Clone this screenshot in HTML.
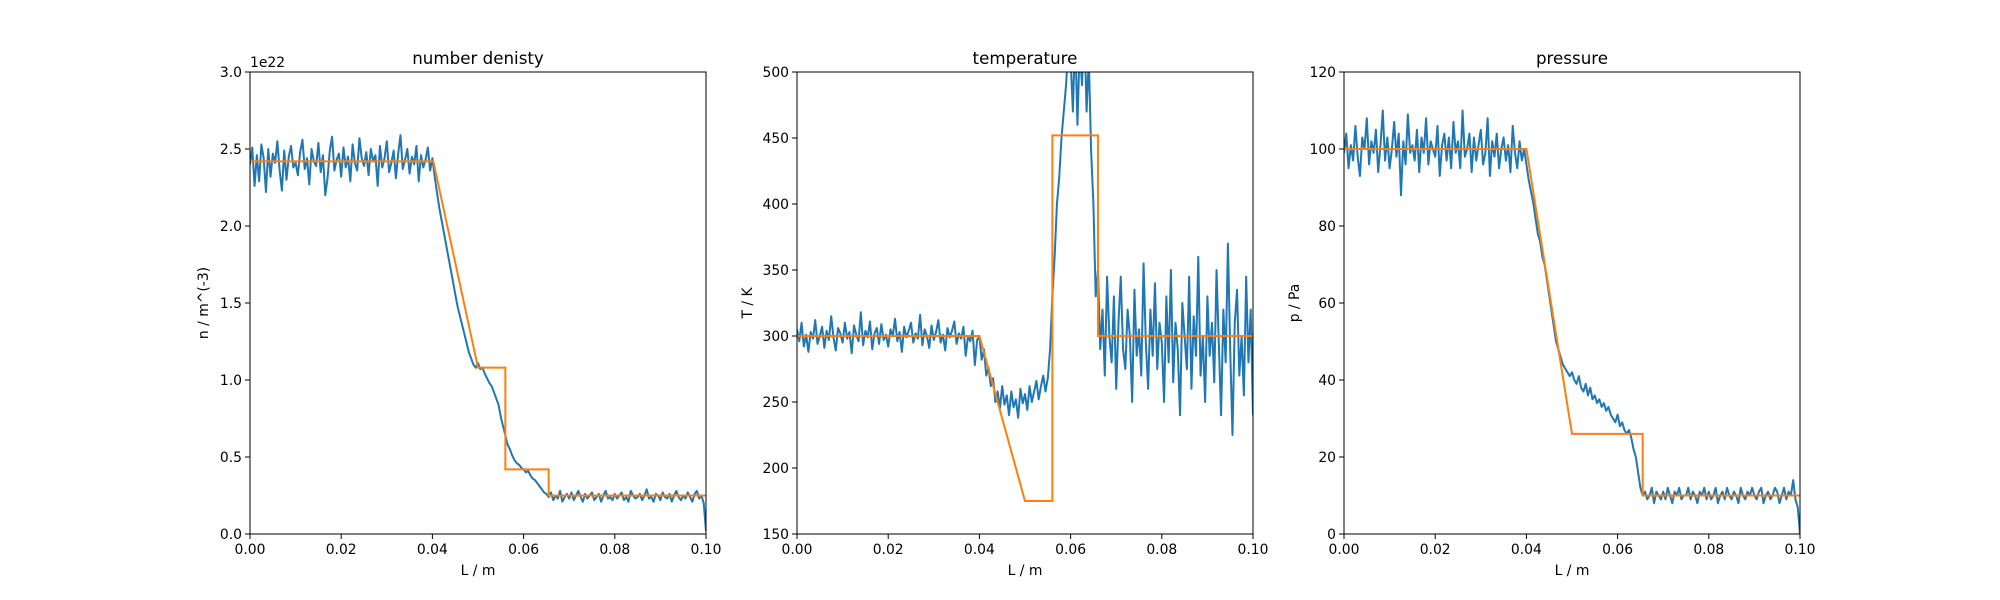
<!DOCTYPE html>
<html><head><meta charset="utf-8"><style>
html,body{margin:0;padding:0;background:#fff;}
svg{display:block;font-family:"DejaVu Sans","Liberation Sans",sans-serif;}
</style></head><body>
<svg id="fig" width="2000" height="600" viewBox="0 0 2000 600"></svg>
<script>
const xTicks=[0,0.02,0.04,0.06,0.08,0.10];
const xTickLabels=["0.00","0.02","0.04","0.06","0.08","0.10"];
const dx=0.0005;
// number density (units of 1e22 * 0.01)
const densityMeasured=[240,251,226,246,229,253,244,222,250,232,247,241,255,236,223,249,230,245,252,238,241,233,248,256,237,244,227,250,242,239,254,235,246,220,231,249,258,236,243,247,232,251,238,245,229,253,241,236,257,244,239,248,233,250,242,246,226,252,238,244,255,235,241,249,231,247,259,237,243,250,234,245,240,252,229,246,238,243,251,236,
244,232,222,212,204,196,188,180,172,164,156,148,142,136,130,124,118,114,110,108,111,107,108,104,101,98,96,92,88,84,76,70,64,58,55,51,48,46,45,43,42,40,41,38,36,35,33,31,29,27,
26,24,27,22,25,23,28,21,24,26,23,27,22,25,28,24,21,26,23,25,27,22,24,26,21,25,28,23,24,22,26,23,25,27,22,24,21,28,25,23,24,26,22,25,29,23,24,21,26,25,22,27,24,23,26,21,25,28,24,22,25,23,27,24,21,26,28,23,25,20,2];
const densityModelX=[0,0.0402,0.05,0.056,0.056,0.0655,0.0655,0.1];
const densityModelY=[2.42,2.42,1.08,1.08,0.42,0.42,0.25,0.25];
const densityTicks=[0,0.5,1.0,1.5,2.0,2.5,3.0];
const densityTickLabels=["0.0","0.5","1.0","1.5","2.0","2.5","3.0"];
// temperature (K)
const tempMeasured=[305,296,310,292,301,288,303,298,312,294,300,307,291,304,297,315,299,289,306,302,295,310,298,303,287,308,301,296,318,293,304,299,311,290,302,306,294,309,297,301,292,305,300,313,296,303,288,307,299,304,310,295,302,298,316,293,305,300,291,308,297,303,312,295,301,289,306,299,304,311,294,302,298,307,285,300,296,304,278,297,
300,282,290,270,276,262,268,250,258,245,262,248,255,240,258,246,252,238,260,249,256,244,262,250,258,266,252,262,270,258,268,290,330,360,400,420,450,470,490,520,510,470,530,460,520,490,540,470,510,440,
400,330,350,290,320,270,345,300,280,330,260,310,345,290,275,320,300,250,335,285,305,270,355,295,260,320,285,340,275,310,295,250,330,280,350,265,310,290,240,325,300,275,345,260,315,285,360,270,300,250,330,285,310,265,350,295,240,320,280,370,290,225,310,335,270,300,255,345,280,320,240];
const tempModelX=[0,0.04,0.05,0.056,0.056,0.066,0.066,0.1];
const tempModelY=[300,300,175,175,452,452,300,300];
const tempTicks=[150,200,250,300,350,400,450,500];
const tempTickLabels=["150","200","250","300","350","400","450","500"];
// pressure (Pa)
const presMeasured=[99,104,95,101,97,106,98,93,103,100,108,96,102,99,105,94,101,110,97,103,95,100,107,98,104,88,102,96,109,99,101,97,105,94,103,99,108,96,102,100,98,106,93,101,104,97,103,95,107,99,102,95,110,98,100,104,94,103,97,101,105,96,99,108,93,102,98,104,95,100,103,97,101,94,106,99,95,102,97,100,
96,92,89,86,82,78,76,72,70,66,62,58,54,50,48,46,44,43,42,41,42,40,39,41,38,37,39,36,38,35,36,34,35,33,34,32,33,31,30,29,31,28,29,27,26,27,25,22,20,16,
12,10,11,9,10,12,8,11,10,9,11,9,12,10,8,11,10,12,9,10,10,12,9,11,10,8,11,10,12,9,11,9,10,12,8,10,11,9,12,10,9,11,10,8,12,10,9,11,10,12,10,9,11,12,8,10,11,9,10,12,11,8,10,12,9,11,10,14,9,7,0];
const presModelX=[0,0.04,0.05,0.0655,0.0655,0.1];
const presModelY=[100,100,26,26,10,10];
const presTicks=[0,20,40,60,80,100,120];
const presTickLabels=["0","20","40","60","80","100","120"];

const NS="http://www.w3.org/2000/svg";
const svg=document.getElementById('fig');
function mk(tag,attrs,parent){const e=document.createElementNS(NS,tag);for(const k in attrs)e.setAttribute(k,attrs[k]);(parent||svg).appendChild(e);return e;}
const TOP=72,BOT=534;
function panel(o){
  const g=mk('g',{});
  
  
  const sx=v=>o.x0+(v-0)/(0.1)*(o.x1-o.x0);
  const sy=v=>BOT-(v-o.ymin)/(o.ymax-o.ymin)*(BOT-TOP);
  const cid='clip-'+o.name;
  const cp=mk('clipPath',{id:cid},g);
  mk('rect',{x:o.x0,y:TOP,width:o.x1-o.x0,height:BOT-TOP},cp);
  let d='';
  o.meas.forEach((v,i)=>{d+=(i?'L':'M')+sx(i*dx).toFixed(2)+','+sy(v*o.scale).toFixed(2);});
  const p1=mk('path',{d:d,fill:'none',stroke:'#1f77b4','stroke-width':2,'stroke-linejoin':'round','clip-path':'url(#'+cid+')'},g);
  
  
  let d2='';
  o.mx.forEach((v,i)=>{d2+=(i?'L':'M')+sx(v).toFixed(2)+','+sy(o.my[i]).toFixed(2);});
  const p2=mk('path',{d:d2,fill:'none',stroke:'#ff7f0e','stroke-width':2,'clip-path':'url(#'+cid+')'},g);
  
  
  const fr=mk('rect',{x:o.x0,y:TOP,width:o.x1-o.x0,height:BOT-TOP,fill:'none',stroke:'#000','stroke-width':1},g);
  
  
  xTicks.forEach((t,i)=>{
    const x=sx(t);
    mk('line',{x1:x,y1:BOT,x2:x,y2:BOT+5,stroke:'#000','stroke-width':1},g);
    const tx=mk('text',{x:x,y:BOT+20,'font-size':13.9,'text-anchor':'middle'},g);
    tx.textContent=xTickLabels[i];
    
    
  });
  o.yt.forEach((t,i)=>{
    const y=sy(t);
    mk('line',{x1:o.x0-5,y1:y,x2:o.x0,y2:y,stroke:'#000','stroke-width':1},g);
    const tx=mk('text',{x:o.x0-8,y:y+5,'font-size':13.9,'text-anchor':'end'},g);
    tx.textContent=o.ytl[i];
    
    
  });
  const ttl=mk('text',{x:(o.x0+o.x1)/2,y:64,'font-size':16.7,'text-anchor':'middle'},g);
  ttl.textContent=o.title;
  
  
  const xl=mk('text',{x:(o.x0+o.x1)/2,y:575,'font-size':13.9,'text-anchor':'middle'},g);
  xl.textContent='L / m';
  
  
  const yl=mk('text',{x:0,y:0,'font-size':13.9,'text-anchor':'middle',transform:'translate('+o.ylx+','+((TOP+BOT)/2)+') rotate(-90)'},g);
  yl.textContent=o.ylabel;
  
  
  if(o.offset){
    const of=mk('text',{x:o.x0,y:67,'font-size':13.9},g);
    of.textContent=o.offset;
    
    
  }
}
panel({name:'density',x0:250,x1:706,ymin:0,ymax:3.0,meas:densityMeasured,scale:0.01,mx:densityModelX,my:densityModelY,yt:densityTicks,ytl:densityTickLabels,title:'number denisty',ylabel:'n / m^(-3)',ylx:208,offset:'1e22'});
panel({name:'temperature',x0:797,x1:1253,ymin:150,ymax:500,meas:tempMeasured,scale:1,mx:tempModelX,my:tempModelY,yt:tempTicks,ytl:tempTickLabels,title:'temperature',ylabel:'T / K',ylx:752});
panel({name:'pressure',x0:1344,x1:1800,ymin:0,ymax:120,meas:presMeasured,scale:1,mx:presModelX,my:presModelY,yt:presTicks,ytl:presTickLabels,title:'pressure',ylabel:'p / Pa',ylx:1299});
</script>
</body></html>
